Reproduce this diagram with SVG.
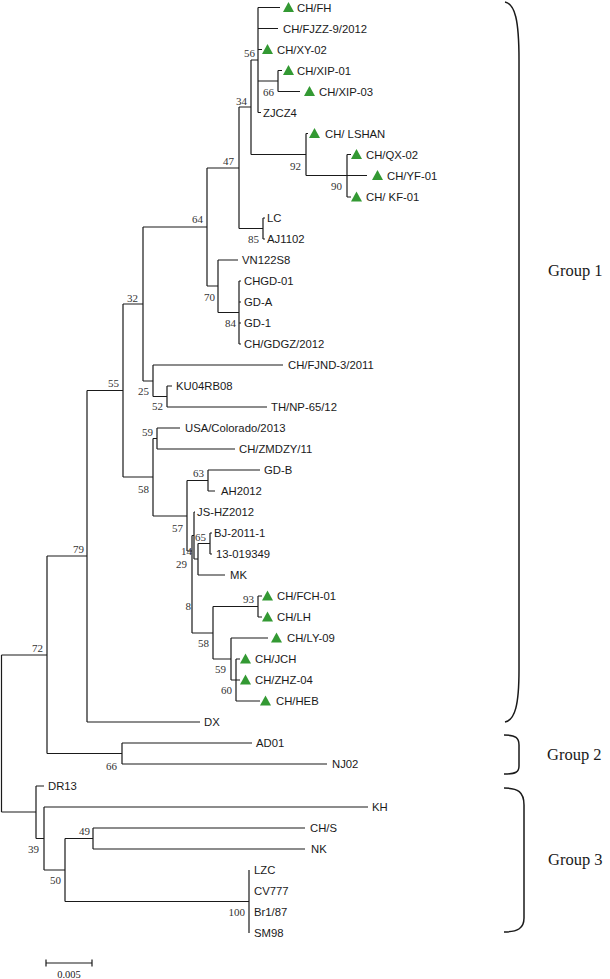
<svg xmlns="http://www.w3.org/2000/svg" width="610" height="979" viewBox="0 0 610 979">
<style>
.ln{fill:none;stroke:#1a1a1a;stroke-width:1.2}
.br{fill:none;stroke:#1a1a1a;stroke-width:1.5}
.lf{font-family:"Liberation Sans",Arial,sans-serif;font-size:11.3px;fill:#1a1a1a}
.bs{font-family:"Liberation Serif","Times New Roman",serif;font-size:11px;fill:#333;text-anchor:end}
.gp{font-family:"Liberation Serif","Times New Roman",serif;font-size:16.5px;fill:#1a1a1a}
.sc{font-family:"Liberation Serif","Times New Roman",serif;font-size:10.5px;fill:#1a1a1a;text-anchor:middle}
</style>
<defs>
<path id="tri" d="M0,-5.5 L5.5,4.5 L-5.5,4.5 Z" fill="#339933"/>
</defs>
<rect width="610" height="979" fill="#ffffff"/>
<g id="connectors" class="ln">
<path d="M251,60H258M258,7.5V112.5M258,7.5H280M258,28.5H278M258,49.5H262M258,81H278M258,112.5H261"/>
<path d="M278,70.5V91.5M278,70.5H282M278,91.5H300"/>
<path d="M239,107H251M251,60V154.5M251,154.5H306"/>
<path d="M306,133.5V175.5M306,133.5H308M306,175.5H367"/>
<path d="M347,154.5V197M347,154.5H351M347,197H351"/>
<path d="M207,168H239M239,107V228.5M239,228.5H263"/>
<path d="M263,218V239M263,218H265M263,239H265"/>
<path d="M143,227H207M207,168V286M207,286H218"/>
<path d="M218,260V312.5M218,260H238M218,312.5H239"/>
<path d="M239,281V344M239,281H241M239,302H241M239,323H241M239,344H241"/>
<path d="M123,304H143M143,227V381M143,381H153"/>
<path d="M153,365V396.5M153,365H283M153,396.5H167"/>
<path d="M167,386V407M167,386H172M167,407H267"/>
<path d="M87,390.5H123M123,304V477M123,477H153"/>
<path d="M153,438.5V516M153,438.5H157M153,516H187"/>
<path d="M157,428V449M157,428H180M157,449H235"/>
<path d="M187,480.5V551M187,480.5H208M187,551H192"/>
<path d="M208,470V491M208,470H260M208,491H215"/>
<path d="M192,535.5V633M192,535.5H194"/>
<path d="M194,512V559M194,512H195"/>
<path d="M194,559H198M198,543.5V575M198,543.5H210M198,575H225"/>
<path d="M210,533V554M210,533H212M210,554H212"/>
<path d="M192,633H213M213,606.5V659M213,659H231"/>
<path d="M213,606.5H258M258,596V617M258,596H262M258,617H262"/>
<path d="M231,638V680M231,638H268M231,680H236"/>
<path d="M236,659V701M236,659H240M236,680H240M236,701H260"/>
<path d="M47,556H87M87,390.5V722M87,722H200"/>
<path d="M47,753.5H122M122,743V764M122,743H252M122,764H327"/>
<path d="M1.5,655H47M47,556V753.5"/>
<path d="M1.5,655V812M1.5,812H36"/>
<path d="M36,786V838.5M36,786H44M36,838.5H44"/>
<path d="M44,807V870M44,807H368M44,870H65"/>
<path d="M65,838.5V901.5M65,838.5H93M65,901.5H249"/>
<path d="M93,828V849M93,828H305M93,849H305"/>
<path d="M249,870V933"/>
</g>
<g id="support">
<text class="bs" x="255" y="57">56</text>
<text class="bs" x="274" y="96">66</text>
<text class="bs" x="247" y="105">34</text>
<text class="bs" x="301" y="170">92</text>
<text class="bs" x="342" y="190">90</text>
<text class="bs" x="234" y="165">47</text>
<text class="bs" x="259" y="243">85</text>
<text class="bs" x="203" y="223">64</text>
<text class="bs" x="215" y="301">70</text>
<text class="bs" x="236" y="327">84</text>
<text class="bs" x="138" y="302">32</text>
<text class="bs" x="119" y="387">55</text>
<text class="bs" x="149" y="395">25</text>
<text class="bs" x="163" y="410">52</text>
<text class="bs" x="153" y="436">59</text>
<text class="bs" x="149" y="493">58</text>
<text class="bs" x="204" y="477">63</text>
<text class="bs" x="183" y="532">57</text>
<text class="bs" x="206" y="541">65</text>
<text class="bs" x="192" y="555">14</text>
<text class="bs" x="187" y="568">29</text>
<text class="bs" x="191" y="610">8</text>
<text class="bs" x="254" y="603">93</text>
<text class="bs" x="209" y="647">58</text>
<text class="bs" x="226" y="673">59</text>
<text class="bs" x="232" y="694">60</text>
<text class="bs" x="84" y="553">79</text>
<text class="bs" x="43" y="652">72</text>
<text class="bs" x="117" y="770">66</text>
<text class="bs" x="39" y="853">39</text>
<text class="bs" x="90" y="835">49</text>
<text class="bs" x="61" y="884">50</text>
<text class="bs" x="245" y="916">100</text>
</g>
<g id="n-CH-FH"><use href="#tri" x="288.5" y="7.5"/><text class="lf" x="297" y="11.5">CH/FH</text></g>
<g id="n-CH-FJZZ"><text class="lf" x="283" y="32.5">CH/FJZZ-9/2012</text></g>
<g id="n-CH-XY-02"><use href="#tri" x="267.5" y="49.5"/><text class="lf" x="277" y="53.5">CH/XY-02</text></g>
<g id="n-CH-XIP-01"><use href="#tri" x="288.5" y="70.5"/><text class="lf" x="297" y="74.5">CH/XIP-01</text></g>
<g id="n-CH-XIP-03"><use href="#tri" x="309.5" y="91.5"/><text class="lf" x="319" y="95.5">CH/XIP-03</text></g>
<g id="n-ZJCZ4"><text class="lf" x="263" y="116.5">ZJCZ4</text></g>
<g id="n-CH-LSHAN"><use href="#tri" x="314.5" y="133.5"/><text class="lf" x="325" y="137.5">CH/ LSHAN</text></g>
<g id="n-CH-QX-02"><use href="#tri" x="356.5" y="154.5"/><text class="lf" x="366" y="158.5">CH/QX-02</text></g>
<g id="n-CH-YF-01"><use href="#tri" x="377.5" y="175.5"/><text class="lf" x="387" y="179.5">CH/YF-01</text></g>
<g id="n-CH-KF-01"><use href="#tri" x="356.5" y="197"/><text class="lf" x="366" y="201">CH/ KF-01</text></g>
<g id="n-LC"><text class="lf" x="267" y="222">LC</text></g>
<g id="n-AJ1102"><text class="lf" x="267" y="243">AJ1102</text></g>
<g id="n-VN122S8"><text class="lf" x="242" y="264">VN122S8</text></g>
<g id="n-CHGD-01"><text class="lf" x="244" y="285">CHGD-01</text></g>
<g id="n-GD-A"><text class="lf" x="244" y="306">GD-A</text></g>
<g id="n-GD-1"><text class="lf" x="244" y="327">GD-1</text></g>
<g id="n-CH-GDGZ"><text class="lf" x="244" y="348">CH/GDGZ/2012</text></g>
<g id="n-CH-FJND"><text class="lf" x="288" y="369">CH/FJND-3/2011</text></g>
<g id="n-KU04RB08"><text class="lf" x="176" y="390">KU04RB08</text></g>
<g id="n-TH-NP"><text class="lf" x="271" y="411">TH/NP-65/12</text></g>
<g id="n-USA"><text class="lf" x="185" y="432">USA/Colorado/2013</text></g>
<g id="n-CH-ZMDZY"><text class="lf" x="239" y="453">CH/ZMDZY/11</text></g>
<g id="n-GD-B"><text class="lf" x="264" y="474">GD-B</text></g>
<g id="n-AH2012"><text class="lf" x="221" y="495">AH2012</text></g>
<g id="n-JS-HZ2012"><text class="lf" x="197" y="516">JS-HZ2012</text></g>
<g id="n-BJ-2011-1"><text class="lf" x="214" y="537">BJ-2011-1</text></g>
<g id="n-13-019349"><text class="lf" x="216" y="558">13-019349</text></g>
<g id="n-MK"><text class="lf" x="230" y="579">MK</text></g>
<g id="n-CH-FCH-01"><use href="#tri" x="267.5" y="596"/><text class="lf" x="277" y="600">CH/FCH-01</text></g>
<g id="n-CH-LH"><use href="#tri" x="267.5" y="617"/><text class="lf" x="277" y="621">CH/LH</text></g>
<g id="n-CH-LY-09"><use href="#tri" x="276.5" y="638"/><text class="lf" x="287" y="642">CH/LY-09</text></g>
<g id="n-CH-JCH"><use href="#tri" x="245.5" y="659"/><text class="lf" x="255" y="663">CH/JCH</text></g>
<g id="n-CH-ZHZ-04"><use href="#tri" x="245.5" y="680"/><text class="lf" x="255" y="684">CH/ZHZ-04</text></g>
<g id="n-CH-HEB"><use href="#tri" x="265.5" y="701"/><text class="lf" x="276" y="705">CH/HEB</text></g>
<g id="n-DX"><text class="lf" x="204" y="726">DX</text></g>
<g id="n-AD01"><text class="lf" x="256" y="747">AD01</text></g>
<g id="n-NJ02"><text class="lf" x="332" y="768">NJ02</text></g>
<g id="n-DR13"><text class="lf" x="48" y="790">DR13</text></g>
<g id="n-KH"><text class="lf" x="372" y="811">KH</text></g>
<g id="n-CH-S"><text class="lf" x="310" y="832">CH/S</text></g>
<g id="n-NK"><text class="lf" x="311" y="853">NK</text></g>
<g id="n-LZC"><text class="lf" x="254" y="874">LZC</text></g>
<g id="n-CV777"><text class="lf" x="254" y="895">CV777</text></g>
<g id="n-Br1-87"><text class="lf" x="254" y="916">Br1/87</text></g>
<g id="n-SM98"><text class="lf" x="254" y="937">SM98</text></g>
<g id="group1"><path class="br" d="M505,2C515,4 519,20 519,60L519,670C519,705 515,720 505,722"/><text class="gp" x="548" y="276">Group 1</text></g>
<g id="group2"><path class="br" d="M504,735C516,735 519,738 519,745L519,766C519,772 516,774 504,774"/><text class="gp" x="547" y="760">Group 2</text></g>
<g id="group3"><path class="br" d="M504,788C518,788 524,792 524,805L524,918C524,928 518,932 504,932"/><text class="gp" x="548" y="865">Group 3</text></g>
<g id="scale"><path class="ln" d="M46,963H92M46,959.5V966.5M92,959.5V966.5"/><text class="sc" x="69" y="978">0.005</text></g>
</svg>
